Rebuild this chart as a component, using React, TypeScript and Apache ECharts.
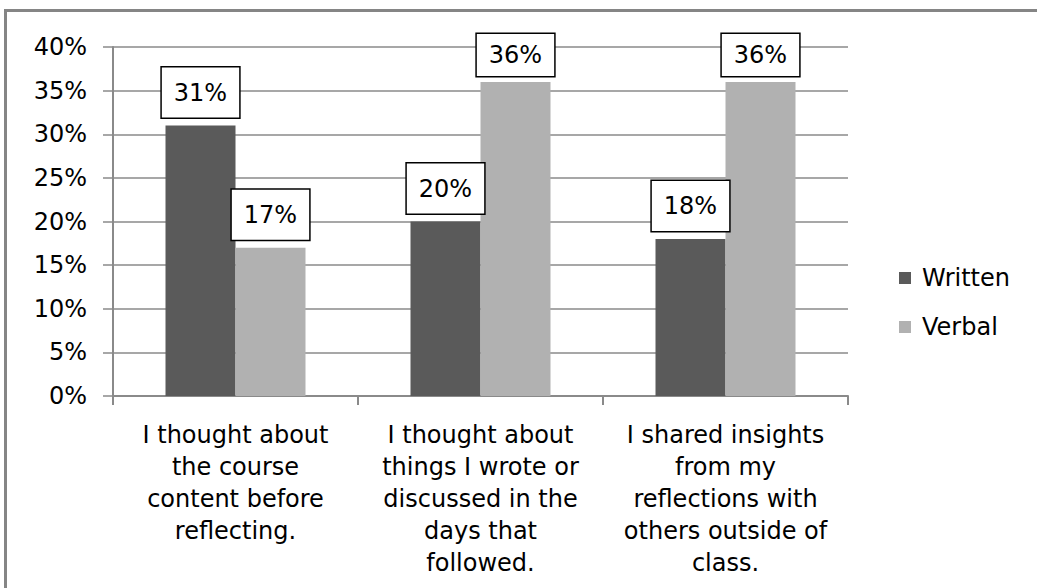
import React, { useEffect, useRef } from "react";
import * as echarts from "echarts";

// Survey responses, percent of students
const categories = [
  "I thought about\nthe course\ncontent before\nreflecting.",
  "I thought about\nthings I wrote or\ndiscussed in the\ndays that\nfollowed.",
  "I shared insights\nfrom my\nreflections with\nothers outside of\nclass.",
];
const seriesNames = ["Written", "Verbal"];
const written = [31, 20, 18];
const verbal = [17, 36, 36];
const yTicks = { min: 0, max: 40, interval: 5 };

const FONT = 'Verdana, "DejaVu Sans", sans-serif';
const FONT_SIZE = 24;
const TEXT = "#000000";
const GRID_GRAY = "#8a8a8a";
const COLORS = ["#5a5a5a", "#b1b1b1"];

const labelStyle = {
  show: true,
  position: "top" as const,
  distance: 8,
  formatter: "{c}%",
  fontFamily: FONT,
  fontSize: FONT_SIZE,
  lineHeight: 24,
  color: TEXT,
  backgroundColor: "#ffffff",
  borderColor: "#000000",
  borderWidth: 1.5,
  padding: [13, 12],
};

// Tall bars get a slightly tighter label box so it stays near the plot top
const toItems = (values: number[]) =>
  values.map((v) => ({
    value: v,
    label: v > 34 ? { padding: [9, 12], distance: 6 } : undefined,
  }));

export default function App() {
  const ref = useRef<HTMLDivElement>(null);

  useEffect(() => {
    if (!ref.current) return;
    const chart = echarts.init(ref.current, undefined, { renderer: "svg" });
    chart.setOption({
      animation: false,
      backgroundColor: "#ffffff",
      textStyle: { fontFamily: FONT },
      graphic: [
        {
          type: "rect",
          silent: true,
          shape: { x: 5.5, y: 10.5, width: 1200, height: 800 },
          style: { fill: "none", stroke: "#858585", lineWidth: 3 },
        },
      ],
      grid: { left: 113, right: 189, top: 47, bottom: 192, containLabel: false },
      legend: {
        data: seriesNames,
        orient: "vertical",
        left: 899,
        top: 263,
        padding: 0,
        icon: "rect",
        itemWidth: 12,
        itemHeight: 12,
        itemGap: 19,
        textStyle: {
          fontFamily: FONT,
          fontSize: FONT_SIZE,
          lineHeight: 30,
          color: TEXT,
          padding: [0, 0, 0, 6],
        },
      },
      xAxis: {
        type: "category",
        data: categories,
        axisLine: { show: true, lineStyle: { color: GRID_GRAY, width: 2 } },
        axisTick: { show: true, length: 9, lineStyle: { color: GRID_GRAY, width: 2 } },
        axisLabel: {
          interval: 0,
          margin: 23,
          fontFamily: FONT,
          fontSize: FONT_SIZE,
          lineHeight: 32,
          color: TEXT,
          align: "center",
        },
      },
      yAxis: {
        type: "value",
        min: yTicks.min,
        max: yTicks.max,
        interval: yTicks.interval,
        axisLine: { show: true, lineStyle: { color: GRID_GRAY, width: 2 } },
        axisTick: { show: true, length: 10, lineStyle: { color: GRID_GRAY, width: 1.5 } },
        splitLine: { show: true, lineStyle: { color: GRID_GRAY, width: 1.5 } },
        axisLabel: {
          margin: 26,
          formatter: "{value}%",
          fontFamily: FONT,
          fontSize: FONT_SIZE,
          color: TEXT,
        },
      },
      series: [
        {
          name: seriesNames[0],
          type: "bar",
          data: toItems(written),
          itemStyle: { color: COLORS[0] },
          barGap: "0%",
          barCategoryGap: "42.86%",
          label: labelStyle,
        },
        {
          name: seriesNames[1],
          type: "bar",
          data: toItems(verbal),
          itemStyle: { color: COLORS[1] },
          barGap: "0%",
          barCategoryGap: "42.86%",
          label: labelStyle,
        },
      ],
    });
    return () => chart.dispose();
  }, []);

  return (
    <div
      ref={ref}
      style={{ position: "absolute", left: 0, top: 0, width: 1037, height: 588 }}
    />
  );
}
